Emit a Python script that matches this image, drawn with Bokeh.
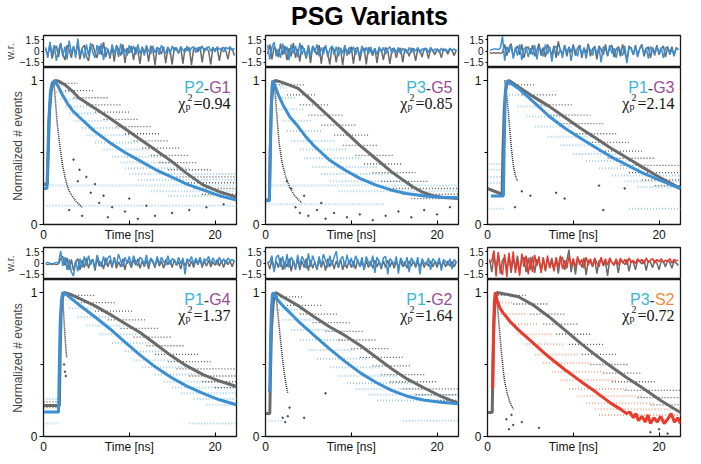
from bokeh.plotting import figure
from bokeh.layouts import column, row
from bokeh.models import Div, Range1d, FixedTicker, Label
from bokeh.embed import file_html
from bokeh.resources import INLINE

# ---------------- data ----------------
TITLE = "PSG Variants"
X_MAX = 22.5
Y_MAX = 1.09
RES_MIN, RES_MAX = -2.2, 2.1
MAIN_TICKS = [0, 10, 20]
MAIN_TICK_LABELS = {10: "Time [ns]"}
Y_TICKS = [0, 1]
Y_MINOR = [0.5]
RES_TICKS = [-1.5, 0.0, 1.5]
Y_LABEL = "Normalized # events"
RES_LABEL = "w.r."

NAME_A = ["P2", "P3", "P1", "P1", "P1", "P3"]
NAME_B = ["G1", "G5", "G3", "G4", "G2", "S2"]
CHI2 = ["0.94", "0.85", "2.14", "1.37", "1.64", "0.72"]

# fitted decays: gray (reference) and coloured (variant)
GF1_T = [0, 0.45, 0.55, 0.7, 0.9, 1.1, 1.4, 1.8, 2.5, 3.3, 4.1, 5.9, 7.7, 9.5, 11.3, 13.1, 14.9, 16.7, 18.6, 20.4, 22.5]
GF1_Y = [0.28, 0.28, 0.5, 0.78, 0.93, 0.98, 1.0, 0.995, 0.97, 0.93, 0.88, 0.81, 0.74, 0.665, 0.59, 0.515, 0.44, 0.355, 0.275, 0.23, 0.19]
CF1_T = [0, 0.4, 0.5, 0.6, 0.8, 1.0, 1.3, 1.7, 2.2, 2.8, 3.4, 4.1, 5.0, 5.9, 6.8, 7.7, 9.5, 11.3, 13.1, 14.9, 16.7, 18.6, 20.5, 22.5]
CF1_Y = [0.25, 0.25, 0.45, 0.7, 0.92, 0.98, 1.0, 0.96, 0.9, 0.84, 0.79, 0.75, 0.7, 0.65, 0.61, 0.57, 0.5, 0.44, 0.38, 0.33, 0.28, 0.24, 0.2, 0.17]

GF2_T = [0, 0.45, 0.55, 0.7, 0.9, 1.1, 1.5, 2.5, 3.8, 5.6, 7.4, 9.2, 11.0, 12.8, 14.6, 16.0, 17.2, 18.3, 19.5, 20.8, 22.5]
GF2_Y = [0.17, 0.17, 0.5, 0.85, 0.97, 1.0, 0.995, 0.975, 0.945, 0.85, 0.75, 0.65, 0.55, 0.46, 0.37, 0.31, 0.26, 0.225, 0.2, 0.187, 0.18]
CF2_T = [0, 0.45, 0.55, 0.65, 0.75, 0.85, 1.1, 1.5, 2.0, 2.8, 3.8, 4.7, 5.6, 6.5, 7.4, 9.2, 11.0, 12.8, 14.6, 16.4, 18.3, 20.3, 22.5]
CF2_Y = [0.165, 0.165, 0.5, 0.8, 0.95, 1.0, 0.96, 0.9, 0.835, 0.75, 0.68, 0.61, 0.55, 0.5, 0.45, 0.38, 0.32, 0.275, 0.24, 0.215, 0.2, 0.19, 0.187]

GF3_T = [0, 1.7, 1.8, 1.95, 2.1, 2.3, 2.5, 3.5, 5.0, 7.2, 9.0, 10.8, 12.6, 14.4, 16.2, 18.0, 20.0, 22.5]
GF3_Y = [0.25, 0.21, 0.5, 0.8, 0.93, 0.98, 1.0, 0.96, 0.9, 0.82, 0.745, 0.67, 0.6, 0.53, 0.465, 0.4, 0.33, 0.25]
CF3_T = [0.4, 1.85, 1.95, 2.05, 2.15, 2.3, 2.7, 3.6, 5.4, 7.2, 9.0, 10.8, 12.6, 14.4, 16.2, 18.0, 20.0, 22.5]
CF3_Y = [0.198, 0.198, 0.55, 0.85, 0.96, 1.0, 0.98, 0.945, 0.85, 0.75, 0.67, 0.6, 0.535, 0.47, 0.415, 0.36, 0.31, 0.25]

GF4_T = [0, 1.85, 1.95, 2.05, 2.2, 2.4, 3.0, 4.1, 5.9, 7.7, 9.5, 11.3, 13.1, 14.9, 16.7, 18.6, 20.5, 22.5]
GF4_Y = [0.215, 0.215, 0.6, 0.85, 0.96, 1.0, 0.99, 0.96, 0.91, 0.85, 0.785, 0.72, 0.64, 0.56, 0.49, 0.43, 0.385, 0.347]
CF4_T = [0, 1.75, 1.85, 1.95, 2.1, 2.25, 2.8, 4.1, 5.9, 7.7, 9.5, 11.3, 13.1, 14.9, 16.7, 18.6, 20.5, 22.5]
CF4_Y = [0.17, 0.17, 0.5, 0.8, 0.95, 1.0, 0.98, 0.916, 0.835, 0.75, 0.655, 0.563, 0.48, 0.41, 0.35, 0.3, 0.255, 0.22]

GF5_T = [0, 0.5, 0.6, 0.7, 0.9, 1.2, 2.0, 3.9, 5.7, 7.5, 9.3, 11.1, 12.9, 14.7, 16.5, 18.4, 20.4, 22.5]
GF5_Y = [0.16, 0.16, 0.5, 0.75, 0.93, 1.0, 0.97, 0.905, 0.83, 0.76, 0.7, 0.63, 0.55, 0.47, 0.4, 0.34, 0.28, 0.23]
CF5_T = [0.3, 0.5, 0.6, 0.7, 0.8, 0.9, 1.4, 2.07, 3.0, 3.9, 5.7, 7.5, 9.3, 11.1, 12.9, 14.7, 16.5, 18.4, 20.4, 22.5]
CF5_Y = [0.32, 0.32, 0.7, 0.9, 0.98, 1.0, 0.95, 0.905, 0.85, 0.795, 0.7, 0.607, 0.52, 0.44, 0.375, 0.32, 0.28, 0.254, 0.238, 0.228]

GF6_T = [0, 0.55, 0.65, 0.75, 0.9, 1.1, 2.0, 3.6, 5.4, 7.2, 9.0, 10.8, 12.6, 14.4, 16.2, 18.0, 20.2, 22.5]
GF6_Y = [0.166, 0.166, 0.55, 0.8, 0.95, 1.0, 0.99, 0.97, 0.91, 0.83, 0.74, 0.65, 0.565, 0.486, 0.41, 0.34, 0.25, 0.166]
CF6_T = [0.5, 0.6, 0.7, 0.8, 0.9, 1.1, 1.44, 1.8, 2.6, 3.6, 5.4, 7.2, 9.0, 10.8, 12.6, 14.4, 15.5, 16.2,
         16.6, 17.0, 17.3, 17.6, 18.0, 18.4, 18.7, 19.0, 19.4, 19.8, 20.2, 20.6, 21.0, 21.4, 21.8, 22.2, 22.5]
CF6_Y = [0.34, 0.34, 0.7, 0.93, 1.0, 0.95, 0.894, 0.86, 0.8, 0.74, 0.645, 0.55, 0.465, 0.386, 0.31, 0.23, 0.19, 0.16,
         0.17, 0.13, 0.16, 0.11, 0.14, 0.10, 0.15, 0.09, 0.13, 0.10, 0.14, 0.09, 0.12, 0.16, 0.10, 0.13, 0.09]

# photon-count rows [t_start, t_end, level] of the measured histograms
CB1 = [[1.0, 2.5, 0.97], [1.5, 3.5, 0.92], [2.0, 4.5, 0.87], [2.5, 5.5, 0.82], [3.0, 6.5, 0.77],
       [3.5, 7.5, 0.72], [4.5, 9.0, 0.67], [5.0, 10.0, 0.62], [6.0, 11.0, 0.57], [7.0, 12.5, 0.52],
       [8.0, 14.0, 0.47], [9.0, 15.5, 0.43], [9.5, 17.0, 0.39], [10.0, 22.5, 0.35], [11.0, 22.5, 0.31],
       [0.0, 22.5, 0.27], [12.5, 22.5, 0.23], [14.5, 22.5, 0.2], [0.0, 22.5, 0.13]]
GB1 = [[1.5, 4.0, 0.98], [2.5, 6.0, 0.93], [3.5, 7.5, 0.88], [5.0, 9.0, 0.83], [6.0, 10.0, 0.78],
       [7.0, 11.0, 0.73], [8.5, 12.5, 0.68], [9.5, 13.5, 0.63], [10.5, 14.5, 0.58], [11.5, 16.0, 0.53],
       [12.5, 17.0, 0.48], [13.5, 18.0, 0.43], [14.5, 19.5, 0.38], [15.5, 22.5, 0.33], [16.5, 22.5, 0.29],
       [17.5, 22.5, 0.25], [18.5, 22.5, 0.21]]
CB2 = [[1.0, 2.5, 0.95], [1.2, 3.5, 0.88], [1.5, 4.5, 0.8], [2.0, 5.5, 0.72], [2.5, 6.5, 0.65],
       [3.0, 8.0, 0.58], [4.0, 9.5, 0.52], [4.5, 11.0, 0.46], [5.5, 13.0, 0.4], [6.5, 15.0, 0.35],
       [7.5, 17.0, 0.3], [0.0, 22.5, 0.27], [8.5, 22.5, 0.23], [0.0, 14.0, 0.14]]
GB2 = [[1.2, 4.5, 0.97], [2.5, 6.0, 0.9], [4.0, 7.5, 0.83], [5.0, 9.0, 0.76], [6.5, 10.5, 0.69],
       [8.0, 12.0, 0.62], [9.0, 13.0, 0.55], [10.5, 15.0, 0.48], [11.5, 16.0, 0.42], [12.5, 17.5, 0.36],
       [13.5, 19.0, 0.3], [14.5, 22.5, 0.25], [16.0, 22.5, 0.21], [17.0, 22.5, 0.18]]
CB3 = [[2.5, 5.0, 0.9], [3.5, 7.0, 0.82], [4.5, 8.5, 0.75], [5.5, 10.0, 0.68], [7.0, 12.0, 0.61],
       [8.5, 13.5, 0.55], [10.0, 15.5, 0.49], [11.5, 17.0, 0.44], [13.0, 19.0, 0.39], [14.5, 22.5, 0.34],
       [16.0, 22.5, 0.3], [17.5, 22.5, 0.26], [0.0, 2.0, 0.42], [0.0, 2.0, 0.38], [0.0, 2.0, 0.33],
       [0.0, 2.0, 0.29], [0.0, 2.0, 0.11], [16.5, 22.5, 0.11]]
GB3 = [[2.5, 5.5, 0.97], [4.0, 8.0, 0.9], [5.5, 10.0, 0.83], [7.0, 12.0, 0.76], [8.5, 13.5, 0.7],
       [10.0, 15.0, 0.63], [11.5, 16.5, 0.57], [13.0, 18.0, 0.51], [14.0, 19.5, 0.46], [15.5, 22.5, 0.41],
       [16.5, 22.5, 0.36], [18.0, 22.5, 0.31], [19.5, 22.5, 0.27]]
CB4 = [[2.2, 5.0, 0.95], [3.0, 6.5, 0.89], [4.0, 8.0, 0.83], [5.0, 9.5, 0.77], [6.5, 11.0, 0.71],
       [8.0, 12.5, 0.65], [9.5, 14.0, 0.59], [10.5, 15.5, 0.53], [11.5, 17.0, 0.48], [13.0, 18.5, 0.43],
       [14.0, 20.0, 0.38], [15.0, 22.5, 0.34], [16.0, 22.5, 0.3], [17.5, 22.5, 0.26], [19.0, 22.5, 0.22],
       [0.0, 1.8, 0.26], [0.0, 1.8, 0.09], [17.0, 22.5, 0.09]]
GB4 = [[2.3, 6.0, 0.98], [4.0, 8.5, 0.93], [6.0, 10.5, 0.87], [7.5, 12.0, 0.81], [9.0, 13.5, 0.75],
       [10.5, 15.0, 0.69], [12.0, 16.5, 0.63], [13.0, 18.0, 0.57], [14.5, 19.5, 0.52], [15.5, 22.5, 0.47],
       [17.0, 22.5, 0.42], [18.5, 22.5, 0.38], [20.0, 22.5, 0.34], [0.0, 1.9, 0.24], [0.0, 1.9, 0.2]]
CB5 = [[0.8, 3.0, 0.95], [1.2, 4.5, 0.88], [2.0, 6.0, 0.81], [3.0, 7.5, 0.74], [4.0, 9.0, 0.67],
       [5.0, 10.5, 0.6], [6.0, 12.0, 0.54], [7.5, 13.5, 0.48], [8.5, 15.5, 0.42], [9.5, 17.0, 0.37],
       [10.5, 19.0, 0.33], [12.0, 22.5, 0.29], [13.0, 22.5, 0.25], [0.0, 2.0, 0.11], [16.0, 22.5, 0.11]]
GB5 = [[1.0, 4.5, 0.97], [2.5, 6.5, 0.91], [4.0, 8.5, 0.85], [5.5, 10.0, 0.79], [7.0, 11.5, 0.73],
       [8.5, 13.0, 0.67], [10.0, 14.5, 0.61], [11.0, 16.0, 0.55], [12.5, 17.0, 0.49], [13.5, 18.5, 0.43],
       [14.5, 20.0, 0.38], [16.0, 22.5, 0.33], [17.5, 22.5, 0.29], [19.0, 22.5, 0.25]]
CB6 = [[1.0, 3.0, 0.93], [1.5, 4.5, 0.85], [2.5, 6.0, 0.78], [3.5, 7.5, 0.71], [4.5, 9.0, 0.64],
       [5.5, 10.5, 0.57], [6.5, 12.0, 0.51], [7.5, 13.5, 0.45], [8.5, 15.0, 0.39], [9.5, 16.5, 0.33],
       [10.5, 18.0, 0.28], [11.5, 19.5, 0.23], [12.5, 22.5, 0.19], [13.0, 22.5, 0.15]]
GB6 = [[1.2, 4.5, 0.98], [3.0, 7.0, 0.92], [5.0, 9.0, 0.85], [6.5, 10.5, 0.78], [8.0, 12.0, 0.71],
       [9.5, 13.5, 0.64], [11.0, 15.0, 0.57], [12.0, 16.5, 0.5], [13.5, 18.0, 0.44], [14.5, 19.5, 0.38],
       [16.0, 22.5, 0.32], [17.5, 22.5, 0.27], [19.0, 22.5, 0.22]]

# instrument response (black dotted trail) and scattered counts
IRF1_T = [1.2, 1.4, 1.6, 1.9, 2.2, 2.5, 2.8, 3.2, 3.8, 4.5]
IRF1_Y = [1.0, 0.85, 0.7, 0.55, 0.42, 0.33, 0.26, 0.21, 0.16, 0.12]
IRF2_T = [1.0, 1.2, 1.4, 1.6, 1.9, 2.3, 2.8, 3.4, 4.2]
IRF2_Y = [1.0, 0.85, 0.7, 0.56, 0.44, 0.34, 0.26, 0.2, 0.15]
IRF3_T = [2.0, 2.2, 2.4, 2.6, 2.8, 3.0, 3.2, 3.5]
IRF3_Y = [1.0, 0.92, 0.8, 0.66, 0.52, 0.42, 0.35, 0.3]
IRF4_T = [2.2, 2.3, 2.4, 2.5, 2.6, 2.7]
IRF4_Y = [1.0, 0.9, 0.8, 0.7, 0.62, 0.55]
IRF5_T = [1.2, 1.4, 1.6, 1.8, 2.0, 2.2, 2.4, 2.6]
IRF5_Y = [1.0, 0.88, 0.76, 0.64, 0.53, 0.44, 0.36, 0.3]
IRF6_T = [1.0, 1.2, 1.4, 1.6, 1.8, 2.0, 2.3, 2.6, 3.0]
IRF6_Y = [1.0, 0.88, 0.74, 0.6, 0.48, 0.38, 0.3, 0.24, 0.19]

PTS1_T = [3.5, 4.2, 5.0, 4.0, 6.0, 5.5, 7.0, 6.5, 8.0, 9.5, 3.0, 4.5, 7.5, 11.0, 13.0, 15.0, 17.0, 19.0, 21.0, 10.0, 12.0]
PTS1_Y = [0.45, 0.38, 0.33, 0.3, 0.28, 0.22, 0.2, 0.15, 0.12, 0.09, 0.1, 0.06, 0.05, 0.04, 0.06, 0.08, 0.1, 0.12, 0.14, 0.18, 0.13]
PTS2_T = [2.5, 3.0, 3.5, 4.5, 5.0, 6.0, 7.0, 8.0, 9.5, 11.0, 12.5, 14.0, 15.5, 17.0, 18.5, 20.0, 21.5, 4.0, 6.5]
PTS2_Y = [0.3, 0.25, 0.12, 0.2, 0.06, 0.1, 0.04, 0.08, 0.05, 0.07, 0.03, 0.06, 0.09, 0.05, 0.1, 0.07, 0.12, 0.08, 0.15]
PTS3_T = [4.0, 5.0, 8.0, 9.0, 13.0, 13.5, 16.0, 3.2]
PTS3_Y = [0.23, 0.2, 0.22, 0.18, 0.27, 0.1, 0.25, 0.12]
PTS4_T = [2.4, 2.5, 2.6]
PTS4_Y = [0.5, 0.45, 0.42]
PTS5_T = [2.0, 2.3, 2.6, 4.5, 7.0, 2.8]
PTS5_Y = [0.13, 0.1, 0.14, 0.13, 0.3, 0.2]
PTS6_T = [2.2, 2.5, 3.0, 2.8, 4.0, 19.0, 20.0, 21.0, 6.0]
PTS6_Y = [0.12, 0.05, 0.08, 0.15, 0.1, 0.03, 0.05, 0.02, 0.06]

# weighted residuals
RES_T = [0.25, 0.5, 0.75, 1.0, 1.25, 1.5, 1.75, 2.0, 2.25, 2.5, 2.75, 3.0, 3.25, 3.5, 3.75, 4.0,
         4.25, 4.5, 4.75, 5.0, 5.25, 5.5, 5.75, 6.0, 6.25, 6.5, 6.75, 7.0, 7.25, 7.5, 7.75, 8.0,
         8.25, 8.5, 8.75, 9.0, 9.25, 9.5, 9.75, 10.0, 10.25, 10.5, 10.75, 11.0, 11.25, 11.5, 11.75,
         12.0, 12.25, 12.5, 12.75, 13.0, 13.25, 13.5, 13.75, 14.0, 14.25, 14.5, 14.75, 15.0, 15.25,
         15.5, 15.75, 16.0, 16.25, 16.5, 16.75, 17.0, 17.25, 17.5, 17.75, 18.0, 18.25, 18.5, 18.75,
         19.0, 19.25, 19.5, 19.75, 20.0, 20.25, 20.5, 20.75, 21.0, 21.25, 21.5, 21.75, 22.0, 22.25]
RG1 = [0.3, -0.6, 0.9, -1.0, 0.2, 0.7, -0.8, 1.1, -0.4, -1.2, 0.8, 0.1, -0.9, 0.6, -0.3, 1.0, -1.1, 0.4, 0.8, -0.7,
       -1.3, 0.5, 0.9, -0.2, -0.9, 0.7, -0.5, 1.2, -0.8, 0.3, -1.0, 0.6, -1.4, 0.8, 0.2, -0.6, 0.9, -1.6, 0.4, -0.3,
       0.7, -1.2, 0.5, 0.1, -1.7, 0.6, -0.2, 0.5, -1.4, 0.7, 0.2, -1.9, 0.5, 0.3, -0.4, 0.6, -1.6, 0.4, 0.1, -1.8,
       0.5, 0.2, -0.3, 0.6, -1.7, 0.4, 0.1, 0.5, -1.9, 0.3, 0.4, -0.1, 0.6, -1.5, 0.3, 0.4, 0.0, -1.8, 0.5, 0.2,
       0.4, -1.3, 0.3, 0.5, 0.1, -1.1, 0.4, 0.3, -0.6]
RC1 = [0.5, -0.9, 1.2, -0.4, 0.8, -1.3, 0.2, 1.0, -0.7, 0.6, -1.1, 1.4, -0.3, 0.7, -0.9, 1.7, -0.5, 0.3, -1.0, 0.9,
       -0.6, 1.1, -0.2, -0.9, 0.8, -0.4, 1.0, -1.2, 0.5, 0.2, -0.7, 0.9, -0.3, 0.6, -0.8, 1.0, -0.4, 0.3, -0.6, 0.8,
       -0.2, 0.7, -0.5, 0.9, -0.3, 0.4, -0.6, 0.8, 0.0, -0.4, 0.7, -0.2, 0.5, -0.5, 0.8, 0.1, -0.3, 0.6, -0.4, 0.7,
       0.0, 0.5, -0.3, 0.6, 0.2, -0.2, 0.7, -0.1, 0.4, 0.6, -0.2, 0.5, 0.1, 0.7, -0.1, 0.4, 0.6, 0.0, 0.5, -0.1,
       0.6, 0.2, 0.4, -0.1, 0.5, 0.3, 0.6, 0.1, 0.4]
RG2 = [-0.4, 0.9, -1.1, 0.6, 0.2, -0.8, 1.0, -0.5, 0.7, -1.2, 0.4, -0.7, 1.1, -0.9, 0.3, -1.4, 0.8, 0.1, -1.0, 0.6,
       -1.6, 0.7, 0.2, -0.5, 0.8, -1.7, 0.4, 0.6, -0.3, -1.8, 0.6, 0.2, -1.5, 0.5, 0.3, -1.9, 0.4, 0.1, -0.4, 0.6,
       -1.7, 0.3, 0.5, -1.3, 0.2, 0.4, -1.8, 0.5, 0.1, -0.6, 0.4, -1.6, 0.3, 0.2, -1.2, 0.5, 0.1, -1.7, 0.3, 0.4,
       -0.9, 0.2, 0.4, -1.5, 0.3, 0.1, -0.7, 0.4, 0.2, -1.3, 0.3, 0.1, -0.8, 0.4, 0.2, -1.0, 0.3, 0.2, -0.5, 0.3,
       0.1, -0.9, 0.3, 0.2, -0.4, 0.3, 0.1, -0.6, 0.2]
RC2 = [0.8, -1.1, 0.5, 1.2, -0.7, 0.3, -0.9, 1.0, -0.4, 0.6, -1.2, 0.9, -0.3, 0.7, -0.8, 1.1, -0.5, 0.4, -0.9, 0.8,
       -0.6, 0.6, -0.2, 0.9, -0.7, 0.5, -0.4, 0.8, -0.8, 0.3, 0.7, -0.5, 0.6, -0.7, 0.4, -0.3, 0.8, -0.6, 0.5, -0.2,
       0.6, -0.5, 0.3, -0.6, 0.7, -0.2, 0.5, -0.4, 0.6, -0.3, 0.4, -0.5, 0.6, -0.1, 0.5, -0.4, 0.3, 0.6, -0.3, 0.4,
       -0.2, 0.5, -0.4, 0.4, 0.1, -0.3, 0.5, -0.2, 0.4, 0.0, 0.5, -0.3, 0.3, 0.1, 0.4, -0.2, 0.5, -0.1, 0.3, 0.2,
       -0.2, 0.4, 0.0, 0.3, -0.1, 0.4, 0.1, 0.3, 0.0]
RG3 = [-0.2, -0.3, -0.2, -0.3, -0.2, -0.3, -0.2, 0.9, -0.6, 0.4, 1.0, -0.8, 0.2, 0.7, -0.5, 0.9, -0.9, 0.3, 0.6, -0.4,
       0.8, -0.7, 0.1, 1.0, -0.6, 0.5, -0.8, 0.9, 0.2, -0.5, 0.7, -0.9, 1.3, 0.1, -0.4, 0.8, -0.7, 0.6, -0.2, 0.9,
       -0.6, 0.4, 0.8, -0.9, 0.5, -0.3, 1.0, -0.7, 0.3, 0.6, -1.1, 0.7, 0.2, -0.5, 0.9, -0.6, 0.4, 0.8, -0.8, 0.3,
       0.6, -0.7, 0.9, -0.2, -1.2, 0.7, 0.3, -0.5, 0.8, -0.6, 0.4, 0.9, -0.7, 0.2, 0.6, -0.9, 0.5, -0.3, 0.8, -0.5,
       0.3, 0.7, -0.8, 0.5, -0.2, 0.6, -0.6, 0.4, 0.2]
RC3 = [0.1, 0.2, 0.3, 0.3, 0.2, 0.4, 2.0, -1.3, 0.6, -0.2, 0.8, -1.0, 0.5, -0.6, 0.9, -1.2, 0.3, 0.6, -0.8, 0.4,
       -0.5, 0.8, -1.1, 0.5, 0.2, -0.7, 0.9, -0.4, 0.6, -1.4, 0.4, 0.7, -0.6, 0.3, -0.9, 0.8, -0.2, 0.5, -1.3, 0.6,
       0.1, -0.7, 0.8, -0.5, 0.4, -1.0, 0.6, 0.2, -0.6, 0.7, -0.4, 0.5, -1.5, 0.6, 0.3, -0.7, 0.8, -0.3, 0.4, -0.9,
       0.6, 0.1, -0.6, 0.7, -1.6, 0.4, 0.5, -0.5, 0.6, -0.8, 0.3, 0.7, -0.4, 0.5, -1.0, 0.6, 0.2, -0.6, 0.7, -0.3,
       0.5, -0.9, 0.4, 0.6, -0.5, 0.3, -0.7, 0.5, 0.2]
RG4 = [-0.1, -0.2, -0.1, -0.2, -0.1, -0.2, -0.1, 0.6, 0.9, -0.3, 0.7, -0.9, 0.5, -1.0, 0.2, 0.6, -0.9, 0.4, -0.6, 0.7,
       -0.7, 0.3, 0.5, -1.0, 0.6, -0.4, 0.2, -0.8, 0.7, -0.5, 0.4, -0.6, 0.8, -0.7, 0.2, -0.5, 0.6, -0.9, 0.4, 0.1,
       -0.6, 0.5, -0.3, 0.6, -0.7, 0.3, -0.5, 0.4, -0.8, 0.5, 0.1, -0.6, 0.6, -0.4, 0.3, -0.7, 0.5, -0.2, 0.4, -0.6,
       0.5, -0.3, 0.2, -0.8, 0.4, -0.4, 0.5, -0.5, 0.3, -0.6, 0.4, -0.2, 0.5, -0.6, 0.3, -0.4, 0.4, -0.5, 0.2, -0.3,
       0.5, -0.4, 0.3, -0.6, 0.4, -0.2, 0.3, -0.5, 0.4]
RC4 = [0.0, 0.1, 0.0, -0.1, 0.0, 0.1, 0.0, 1.6, -0.4, 0.8, -0.9, 0.5, -1.2, -1.7, 0.3, -1.1, 0.6, -0.6, 0.9, -0.4,
       1.0, -0.2, 0.5, -0.7, 1.1, 0.2, -0.5, 0.9, -0.3, 0.7, 1.0, -0.4, 0.6, -0.2, 1.2, 0.3, -0.5, 0.8, -0.1, 0.9,
       -0.3, 1.0, 0.2, -0.4, 0.8, 0.5, -0.2, 1.1, -0.3, 0.7, 0.3, -0.4, 0.9, -0.1, 0.8, 0.2, -0.3, 1.0, -0.2, 0.6,
       0.4, -0.3, 0.8, -0.1, 0.7, -1.5, 0.6, 0.2, 0.9, -0.2, 0.7, 0.0, 0.8, -0.3, 0.6, 0.3, 0.9, -0.1, 0.7, 0.2,
       -0.2, 0.8, 0.1, 0.6, -0.1, 0.7, 0.3, 0.5, 0.2]
RG5 = [0.2, -0.8, 0.5, -1.0, 0.3, -0.6, 0.7, -0.9, 0.2, -0.5, 0.6, -1.1, 0.4, -0.7, 0.5, -0.9, 0.3, -0.6, 0.6, -1.0,
       0.4, -0.7, 0.2, -0.9, 0.5, -0.6, 0.3, -1.0, 0.6, -0.5, 0.4, -0.8, 0.3, -0.6, 0.5, -0.9, 0.2, -0.7, 0.4, -0.6,
       0.3, -0.8, 0.5, -0.5, 0.2, -0.9, 0.4, -0.6, 0.3, -0.7, 0.4, -0.5, 0.2, -0.8, 0.3, -0.6, 0.4, -0.5, 0.2, -0.7,
       0.3, -0.6, 0.4, -0.5, 0.2, -0.7, 0.3, -0.4, 0.3, -0.6, 0.2, -0.5, 0.3, -0.6, 0.2, -0.4, 0.3, -0.5, 0.2, -0.6,
       0.3, -0.4, 0.2, -0.5, 0.3, -0.4, 0.2, -0.5, 0.2]
RC5 = [0.0, 0.2, 1.0, -1.2, 0.8, 1.1, -0.5, 0.9, -0.8, 1.2, -0.6, 0.8, 0.2, -0.9, 1.1, -0.4, 0.9, 0.3, -0.7, 1.3,
       -0.5, 1.0, 0.1, -0.8, 0.9, -0.4, 1.2, 0.4, -0.6, 1.0, -0.3, 0.8, 1.6, -0.6, 0.5, 0.9, -0.5, 1.1, -0.2, 0.7,
       -0.6, 1.0, 0.3, -0.4, 0.8, -0.9, 0.9, 0.1, -0.4, 1.0, -1.3, 0.8, 0.2, -0.5, 0.7, 0.9, -1.5, 0.6, 0.3, -0.3,
       0.9, -1.4, 0.7, 0.1, -0.4, 0.8, -1.2, 0.7, 0.2, -0.3, 0.8, -1.5, 0.6, 0.0, -0.2, 0.7, -0.9, 0.6, 0.3, -0.2,
       0.7, -1.0, 0.5, 0.2, -0.3, 0.6, -0.8, 0.5, 0.1]
RG6 = [0.5, -1.2, 0.9, -0.6, 1.1, -1.4, 0.4, 0.8, -1.0, 1.1, -1.3, 0.6, -0.5, 1.0, -1.1, 0.3, 0.8, -1.2, 0.7, -0.9,
       0.9, -1.3, 0.5, 0.2, -1.0, 0.8, -1.1, 0.6, -0.4, 0.7, -0.8, 0.6, -1.4, 0.5, 0.8, -0.9, 0.4, 1.8, -1.2, 0.6,
       -1.5, 0.5, 0.3, -0.6, 0.7, -1.6, 0.4, 0.2, -0.5, 0.6, -1.4, 0.3, 0.5, -0.4, 0.2, -1.7, 0.5, 0.1, -0.3, 0.4,
       -1.3, 0.4, 0.2, -0.2, 0.5, -1.1, 0.3, 0.1, -0.9, 0.4, 0.2, -0.1, 0.4, -1.0, 0.3, 0.1, -0.6, 0.4, 0.0, -0.9,
       0.3, 0.2, -0.5, 0.4, 0.1, -0.7, 0.3, 0.0, -0.3]
RC6 = [0.0, 0.3, 1.7, -1.8, 1.5, -0.6, -1.6, 1.2, -1.9, 1.4, -0.9, 1.6, -1.3, 0.4, -1.7, 1.3, -0.5, 1.0, -1.5, 0.8,
       -1.2, 1.1, -0.4, 0.9, -1.3, 0.6, -0.9, 1.0, -0.7, 0.3, -1.1, 0.8, -0.5, 1.0, -0.8, 0.4, -0.7, 0.9, -0.3, 0.6,
       -0.6, 0.9, -0.2, 0.5, -0.7, 0.8, -0.3, 0.6, -0.4, 0.7, 0.0, -0.5, 0.8, -0.2, 0.6, -0.3, 0.7, 0.1, -0.2, 0.6,
       -0.3, 0.7, 0.0, 0.5, -0.2, 0.7, 0.1, 0.4, -0.1, 0.6, 0.2, 0.5, -0.1, 0.7, 0.1, 0.4, 0.6, 0.0, 0.5, 0.2,
       0.6, 0.1, 0.4, 0.3, 0.6, 0.0, 0.5, 0.3, 0.4]

# ---------------- style ----------------
GRAY_LINE = "#6a6a6a"
BLUE_LINE = "#3b8fd2"
RED_LINE = "#ea3a2b"
BLUE_DOT = "#8ec8ee"
RED_DOT = "#f6a080"
DARK_DOT = "#3a3a3a"
CYAN_TXT = "#3bb6d6"
PURPLE_TXT = "#9a4d97"
ORANGE_TXT = "#f28a3b"
SANS = "Liberation Sans"
SERIF = "Liberation Serif"

W = 198
LEFT_FIRST = 38
LEFT = 22
RIGHT = 2
RES_TOP = 3
RES_H = 32
MAIN_H = 160
MAIN_BOT = 17

GF_T = [GF1_T, GF2_T, GF3_T, GF4_T, GF5_T, GF6_T]
GF_Y = [GF1_Y, GF2_Y, GF3_Y, GF4_Y, GF5_Y, GF6_Y]
CF_T = [CF1_T, CF2_T, CF3_T, CF4_T, CF5_T, CF6_T]
CF_Y = [CF1_Y, CF2_Y, CF3_Y, CF4_Y, CF5_Y, CF6_Y]
CB = [CB1, CB2, CB3, CB4, CB5, CB6]
GB = [GB1, GB2, GB3, GB4, GB5, GB6]
IRF_T = [IRF1_T, IRF2_T, IRF3_T, IRF4_T, IRF5_T, IRF6_T]
IRF_Y = [IRF1_Y, IRF2_Y, IRF3_Y, IRF4_Y, IRF5_Y, IRF6_Y]
PTS_T = [PTS1_T, PTS2_T, PTS3_T, PTS4_T, PTS5_T, PTS6_T]
PTS_Y = [PTS1_Y, PTS2_Y, PTS3_Y, PTS4_Y, PTS5_Y, PTS6_Y]
RG = [RG1, RG2, RG3, RG4, RG5, RG6]
RC = [RC1, RC2, RC3, RC4, RC5, RC6]
LINE_COL = [BLUE_LINE] * 5 + [RED_LINE]
DOT_COL = [BLUE_DOT] * 5 + [RED_DOT]
B_COL = [PURPLE_TXT] * 5 + [ORANGE_TXT]

SANS_W = {"P": 0.667, "G": 0.778, "S": 0.667, "-": 0.333}
SERIF_W = {"=": 0.564, ".": 0.25}


def sans_w(s, size):
    return sum(SANS_W.get(c, 0.556) for c in s) * size


def serif_w(s, size):
    return sum(SERIF_W.get(c, 0.5) for c in s) * size


def base_fig(left, height, top, bottom, y0, y1, x_axis=True):
    p = figure(width=left + W + RIGHT, height=height + top + bottom,
               x_range=Range1d(0, X_MAX), y_range=Range1d(y0, y1),
               output_backend="svg", toolbar_location=None,
               x_axis_location="below" if x_axis else None,
               min_border_left=left, min_border_right=RIGHT,
               min_border_top=top, min_border_bottom=bottom)
    p.grid.visible = False
    p.outline_line_color = "#1a1a1a"
    p.outline_line_width = 1.3
    p.background_fill_color = "white"
    p.border_fill_color = "white"
    return p


def res_line(p, t, v, color):
    n = min(len(t), len(v))
    p.line(t[:n], v[:n], line_color=color, line_width=1.5)


def make_res(i, first):
    left = LEFT_FIRST if first else LEFT
    p = base_fig(left, RES_H, RES_TOP, 0, RES_MIN, RES_MAX, x_axis=False)
    ax = p.yaxis[0]
    ax.ticker = FixedTicker(ticks=RES_TICKS)
    ax.major_tick_in = 0
    ax.major_tick_out = 2
    ax.minor_tick_line_color = None
    ax.major_label_standoff = 2
    ax.major_label_text_font = SANS
    ax.major_label_text_font_size = "10px"
    ax.major_label_text_color = "#111111"
    ax.axis_line_color = "#1a1a1a"
    if first:
        ax.axis_label = RES_LABEL
        ax.axis_label_text_font = SANS
        ax.axis_label_text_font_size = "11px"
        ax.axis_label_text_font_style = "normal"
        ax.axis_label_standoff = 1
    res_line(p, RES_T, RG[i], GRAY_LINE)
    res_line(p, RES_T, RC[i], LINE_COL[i])
    return p


def make_main(i, first):
    left = LEFT_FIRST if first else LEFT
    p = base_fig(left, MAIN_H, 0, MAIN_BOT, 0, Y_MAX)
    xa = p.xaxis[0]
    xa.ticker = FixedTicker(ticks=MAIN_TICKS)
    xa.major_label_overrides = MAIN_TICK_LABELS
    xa.major_tick_in = 4
    xa.major_tick_out = 0
    xa.minor_tick_line_color = None
    xa.major_label_standoff = 3
    xa.major_label_text_font = SANS
    xa.major_label_text_font_size = "12px"
    xa.major_label_text_color = "#111111"
    xa.axis_line_color = "#1a1a1a"
    ya = p.yaxis[0]
    ya.ticker = FixedTicker(ticks=Y_TICKS, minor_ticks=Y_MINOR)
    ya.major_tick_in = 0
    ya.major_tick_out = 4
    ya.minor_tick_in = 0
    ya.minor_tick_out = 3
    ya.major_label_standoff = 2
    ya.major_label_text_font = SANS
    ya.major_label_text_font_size = "12px"
    ya.major_label_text_color = "#111111"
    ya.axis_line_color = "#1a1a1a"
    if first:
        ya.axis_label = Y_LABEL
        ya.axis_label_text_font = SANS
        ya.axis_label_text_font_size = "12px"
        ya.axis_label_text_font_style = "normal"
        ya.axis_label_standoff = 3

    cb, gb = CB[i], GB[i]
    p.segment(x0=[b[0] for b in cb], y0=[b[2] for b in cb], x1=[b[1] for b in cb],
              y1=[b[2] for b in cb], line_color=DOT_COL[i], line_width=2.0,
              line_alpha=0.85, line_dash="1 2")
    p.segment(x0=[b[0] for b in gb], y0=[b[2] for b in gb], x1=[b[1] for b in gb],
              y1=[b[2] for b in gb], line_color=DARK_DOT, line_width=1.3,
              line_alpha=0.85, line_dash="1 2")
    p.line(IRF_T[i], IRF_Y[i], line_color="#222222", line_width=1.5, line_dash="1 1")
    p.scatter(PTS_T[i], PTS_Y[i], size=1.5, color="#444444")
    p.line(GF_T[i], GF_Y[i], line_color=GRAY_LINE, line_width=3)
    p.line(CF_T[i], CF_Y[i], line_color=LINE_COL[i], line_width=3)

    # name label  e.g. P2-G1
    fs = 16
    off = -6
    a, b = NAME_A[i], NAME_B[i]
    for txt, col in [(b, B_COL[i]), ("-", "#333333"), (a, CYAN_TXT)]:
        p.add_layout(Label(x=X_MAX, y=0.95, x_offset=off, text=txt, text_align="right",
                           text_baseline="alphabetic", text_font=SANS,
                           text_font_size=f"{fs}px", text_color=col))
        off -= sans_w(txt, fs)
    # chi^2 label
    eq = "=" + CHI2[i]
    p.add_layout(Label(x=X_MAX, y=0.84, x_offset=-6, text=eq, text_align="right",
                       text_baseline="alphabetic", text_font=SERIF, text_font_size="16px",
                       text_color="#111111"))
    left_eq = -6 - serif_w(eq, 16)
    p.add_layout(Label(x=X_MAX, y=0.84, x_offset=left_eq - 6, y_offset=6, text="2",
                       text_align="left", text_baseline="alphabetic", text_font=SERIF,
                       text_font_size="10px", text_color="#111111"))
    p.add_layout(Label(x=X_MAX, y=0.84, x_offset=left_eq - 8, y_offset=-3, text="p",
                       text_align="left", text_baseline="alphabetic", text_font=SERIF,
                       text_font_size="10px", text_color="#111111"))
    p.add_layout(Label(x=X_MAX, y=0.84, x_offset=left_eq - 8, text="\u03c7",
                       text_align="right", text_baseline="alphabetic", text_font=SERIF,
                       text_font_size="16px", text_color="#111111"))
    return p


rows = []
for r in range(2):
    cols = []
    for c in range(3):
        i = r * 3 + c
        cols.append(column(make_res(i, c == 0), make_main(i, c == 0), spacing=0))
    rows.append(row(*cols, spacing=0))

title = Div(text=f'<div style="margin-left:286px; font-family:{SANS}; font-weight:bold; '
                 f'font-size:25px; line-height:22px; color:#000; white-space:nowrap">{TITLE}</div>',
            width=600, height=22)

layout = column(title, *rows, spacing=0)
open("out.html", "w").write(file_html(layout, INLINE, title=TITLE))
